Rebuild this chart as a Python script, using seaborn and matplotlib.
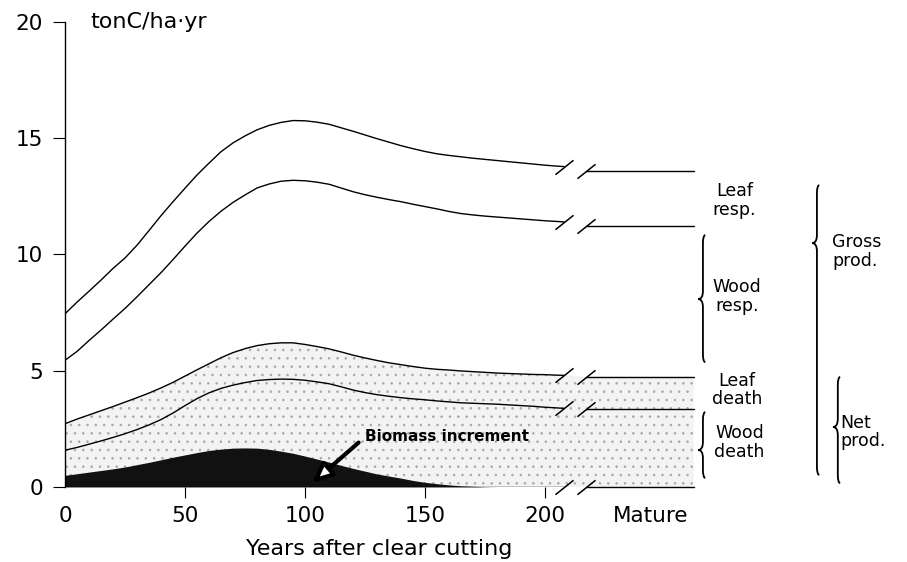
import numpy as np
import pandas as pd
import seaborn as sns
import matplotlib.pyplot as plt
from matplotlib.path import Path
from matplotlib.patches import PathPatch

# values (tonC/ha.yr), every 5 years up to the axis break
years = list(range(0, 206, 5)) + [208]
gross_top = [7.45, 7.95, 8.42, 8.9, 9.4, 9.85, 10.4, 11.03, 11.67, 12.27, 12.85,
             13.42, 13.93, 14.42, 14.8, 15.1, 15.36, 15.55, 15.68, 15.76, 15.75,
             15.69, 15.6, 15.45, 15.3, 15.14, 14.98, 14.83, 14.68, 14.55, 14.43,
             14.33, 14.26, 14.2, 14.14, 14.09, 14.04, 13.99, 13.94, 13.89, 13.84,
             13.8, 13.78]
wood_resp_top = [5.45, 5.83, 6.3, 6.75, 7.22, 7.68, 8.18, 8.7, 9.22, 9.78, 10.36,
                 10.92, 11.42, 11.86, 12.24, 12.56, 12.86, 13.03, 13.15, 13.19, 13.17,
                 13.11, 13.02, 12.86, 12.7, 12.57, 12.46, 12.36, 12.27, 12.16, 12.06,
                 11.96, 11.85, 11.76, 11.7, 11.65, 11.61, 11.57, 11.53, 11.49, 11.45,
                 11.42, 11.4]
leaf_death_top = [2.72, 2.92, 3.1, 3.28, 3.46, 3.65, 3.84, 4.04, 4.26, 4.5, 4.77,
                  5.04, 5.3, 5.56, 5.78, 5.95, 6.08, 6.16, 6.2, 6.2, 6.13,
                  6.04, 5.94, 5.81, 5.67, 5.55, 5.44, 5.34, 5.26, 5.18, 5.11,
                  5.06, 5.03, 4.99, 4.96, 4.93, 4.9, 4.88, 4.86, 4.84, 4.83,
                  4.81, 4.8]
wood_death_top = [1.58, 1.7, 1.84, 1.98, 2.13, 2.29, 2.47, 2.67, 2.9, 3.18, 3.5,
                  3.8, 4.05, 4.24, 4.38, 4.49, 4.58, 4.62, 4.64, 4.63, 4.59,
                  4.52, 4.44, 4.31, 4.17, 4.06, 3.97, 3.9, 3.84, 3.79, 3.75,
                  3.7, 3.66, 3.62, 3.6, 3.58, 3.56, 3.53, 3.5, 3.47, 3.43,
                  3.4, 3.38]
biomass = [0.5, 0.57, 0.64, 0.71, 0.78, 0.86, 0.96, 1.06, 1.17, 1.28, 1.38,
           1.48, 1.57, 1.63, 1.67, 1.68, 1.67, 1.62, 1.54, 1.45, 1.33,
           1.2, 1.07, 0.93, 0.8, 0.68, 0.56, 0.47, 0.38, 0.28, 0.2,
           0.14, 0.09, 0.05, 0.03, 0.01, 0.0, 0.0, 0.0, 0.0, 0.0,
           0.0, 0.0]

# mature stand levels (right of the axis break)
mature_years = [217, 262]
mature_gross = [13.6, 13.6]
mature_wood_resp = [11.22, 11.22]
mature_leaf_death = [4.74, 4.74]
mature_wood_death = [3.35, 3.35]
mature_base = [0.0, 0.0]

xtick_vals = [0, 50, 100, 150, 200, 244]
xtick_labels = ["0", "50", "100", "150", "200", "Mature"]
ytick_vals = [0, 5, 10, 15, 20]

df = pd.DataFrame({"year": years, "gross": gross_top, "wood_resp": wood_resp_top,
                   "leaf_death": leaf_death_top, "wood_death": wood_death_top,
                   "biomass": biomass})
df["base"] = 0.0

sns.set_theme(style="white")
plt.rcParams["font.family"] = ["DejaVu Sans"]
plt.rcParams["text.color"] = "black"
plt.rcParams["hatch.color"] = "#9c9c9c"
plt.rcParams["hatch.linewidth"] = 0.6

fig = plt.figure(figsize=(9.07, 5.62), dpi=100)
ax = fig.add_axes([0.0717, 0.1335, 0.7938, 0.8274])

# stippled area (dead material) and black biomass increment
ax.fill_between(df.year, 0, df.leaf_death, facecolor="#f3f3f3", hatch="..",
                edgecolor="#a8a8a8", linewidth=0, zorder=1)
ax.fill_between([years[-1]] + mature_years, 0, [leaf_death_top[-1]] + mature_leaf_death,
                facecolor="#f3f3f3", hatch="..", edgecolor="#a8a8a8", linewidth=0,
                zorder=1, clip_on=False)
ax.fill_between(df.year, 0, df.biomass, facecolor="#111111", linewidth=0, zorder=2)

slash = [(-1, -0.8), (1, 0.8)]
for col, mat in [("gross", mature_gross), ("wood_resp", mature_wood_resp),
                 ("leaf_death", mature_leaf_death), ("wood_death", mature_wood_death),
                 ("base", mature_base)]:
    sns.lineplot(data=df, x="year", y=col, color="black", lw=1.0, ax=ax, zorder=3)
    ax.plot(df.year.iloc[-1], df[col].iloc[-1], marker=slash, ms=13, mew=1.1,
            color="black", zorder=3, clip_on=False)
    ax.plot(mature_years, mat, color="black", lw=1.0, zorder=3, clip_on=False)
    ax.plot(mature_years[0], mat[0], marker=slash, ms=13, mew=1.1,
            color="black", zorder=3, clip_on=False)

ax.set_xlim(0, 300)
ax.set_ylim(0, 20)
for s in ["top", "right", "bottom"]:
    ax.spines[s].set_visible(False)
ax.spines["left"].set_color("black")
ax.spines["left"].set_linewidth(1.0)

ax.set_yticks(ytick_vals)
ax.set_xticks(xtick_vals)
ax.set_xticklabels(xtick_labels)
ax.tick_params(axis="y", left=True, length=9, width=0.8, pad=7, labelsize=15.5,
               colors="black")
ax.tick_params(axis="x", bottom=True, length=8, width=0.8, pad=6, labelsize=15.5,
               colors="black")
ax.xaxis.get_major_ticks()[-1].tick1line.set_visible(False)
ax.xaxis.get_major_ticks()[0].tick1line.set_visible(False)

ax.set_ylabel("")
ax.set_xlabel("Years after clear cutting", fontsize=16, color="black")
ax.xaxis.set_label_coords(0.437, -0.112)
ax.text(10.5, 20, "tonC/ha\u00b7yr", fontsize=16, va="center", ha="left")

# biomass increment pointer
ax.annotate("Biomass increment", xy=(103, 0.17), xytext=(125, 2.15),
            fontsize=11, fontweight="bold", va="center", ha="left",
            arrowprops=dict(arrowstyle="-|>,head_length=1.1,head_width=0.5",
                            lw=3, ec="black", fc="white", shrinkA=3, shrinkB=0,
                            relpos=(0, 0.5)), zorder=4)

# labels on the right
lab_kw = dict(fontsize=12.5, va="center", linespacing=1.05)
ax.text(279, 12.33, "Leaf\nresp.", ha="center", **lab_kw)
ax.text(280, 8.2, "Wood\nresp.", ha="center", **lab_kw)
ax.text(280, 4.17, "Leaf\ndeath", ha="center", **lab_kw)
ax.text(281, 1.9, "Wood\ndeath", ha="center", **lab_kw)
ax.text(319.6, 10.14, "Gross\nprod.", ha="left", **lab_kw)
ax.text(323, 2.36, "Net\nprod.", ha="left", **lab_kw)


def brace(x, y_bot, y_top, y_tip, w=2.0, d=0.35):
    verts = [(x + w * 0.5, y_top), (x, y_top), (x, y_top - d),
             (x, y_tip + d), (x, y_tip), (x - w, y_tip),
             (x, y_tip), (x, y_tip - d),
             (x, y_bot + d), (x, y_bot), (x + w * 0.5, y_bot)]
    codes = [Path.MOVETO, Path.CURVE3, Path.CURVE3,
             Path.LINETO, Path.CURVE3, Path.CURVE3,
             Path.CURVE3, Path.CURVE3,
             Path.LINETO, Path.CURVE3, Path.CURVE3]
    ax.add_patch(PathPatch(Path(verts, codes), fc="none", ec="black", lw=1.3,
                           clip_on=False))


brace(265.8, 5.37, 10.83, 8.08)
brace(265.8, 0.39, 3.22, 1.59)
brace(313.3, 0.52, 12.98, 10.49)
brace(322.0, 0.17, 4.73, 2.58)

fig.savefig("out.png", dpi=100)
